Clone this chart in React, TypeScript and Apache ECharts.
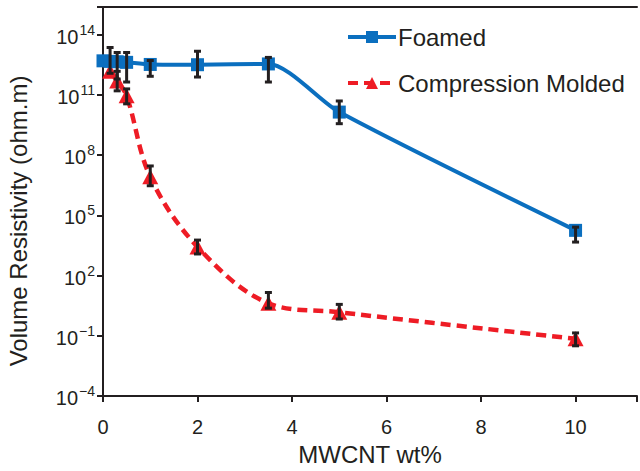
import React, { useEffect, useRef } from "react";
import * as echarts from "echarts";

// MWCNT content (wt%)
const foamedX = [0, 0.15, 0.3, 0.5, 1, 2, 3.5, 5, 10];
const foamedY = [5e12, 4.7e12, 4.5e12, 4.2e12, 3.3e12, 3.2e12, 3.5e12, 1.4e10, 1.8e4];
const foamedErrX = [0.15, 0.3, 0.5, 1, 2, 3.5, 5, 10];
const foamedErrHigh = [2.3e13, 1.3e13, 1.3e13, 5.2e12, 1.5e13, 7.4e12, 5e10, 2.6e4];
const foamedErrLow = [1.2e12, 6.2e11, 4.4e11, 8.5e11, 7.8e11, 4.4e11, 3.7e9, 4.7e3];

const moldedX = [0.15, 0.3, 0.5, 1, 2, 3.5, 5, 10];
const moldedY = [1.5e12, 4.9e11, 9e10, 8.3e6, 2.7e3, 4.2, 1.5, 0.071];
const moldedErrX = [0.3, 0.5, 1, 2, 3.5, 5, 10];
const moldedErrHigh = [1.5e12, 2e11, 2.9e7, 5.9e3, 14.5, 3.7, 0.14];
const moldedErrLow = [1.6e11, 3.6e10, 3e6, 1.2e3, 2.4, 0.69, 0.032];

const xTicks = [0, 2, 4, 6, 8, 10];
const yTickExponents = [-4, -1, 2, 5, 8, 11, 14];

const BLUE = "#0b6fbf";
const RED = "#ee1c25";
const INK = "#231f20";
const FONT = "Liberation Sans, Arial, Helvetica, sans-serif";

const lg = (v: number) => Math.log10(v);

function errorSeries(xs: number[], lo: number[], hi: number[]) {
  return {
    type: "custom",
    z: 10,
    silent: true,
    renderItem: (params: any, api: any) => {
      const x = api.value(0);
      const p1 = api.coord([x, api.value(1)]);
      const p2 = api.coord([x, api.value(2)]);
      const cap = 3.5;
      const st = { stroke: INK, lineWidth: 3 };
      return {
        type: "group",
        children: [
          { type: "line", shape: { x1: p1[0], y1: p1[1], x2: p2[0], y2: p2[1] }, style: st },
          { type: "line", shape: { x1: p1[0] - cap, y1: p1[1], x2: p1[0] + cap, y2: p1[1] }, style: st },
          { type: "line", shape: { x1: p2[0] - cap, y1: p2[1], x2: p2[0] + cap, y2: p2[1] }, style: st },
        ],
      };
    },
    data: xs.map((x, i) => [x, lg(lo[i]), lg(hi[i])]),
  };
}

export default function App() {
  const ref = useRef<HTMLDivElement>(null);
  useEffect(() => {
    if (!ref.current) return;
    document.body.style.margin = "0";
    const chart = echarts.init(ref.current, null, { renderer: "svg" });
    chart.setOption({
      animation: false,
      textStyle: { fontFamily: FONT },
      grid: { left: 103, right: 0, top: 7, bottom: 70 },
      legend: {
        orient: "vertical",
        left: 341,
        top: 18,
        itemWidth: 48,
        itemHeight: 15,
        itemGap: 18,
        lineStyle: { width: 4 },
        textStyle: { fontSize: 24, color: INK, fontFamily: FONT, lineHeight: 28, padding: [0, 0, 0, -3] },
        data: ["Foamed", "Compression Molded"],
      },
      xAxis: [
        {
          type: "value",
          min: 0,
          max: 11.3,
          interval: 2,
          name: "MWCNT wt%",
          nameLocation: "middle",
          nameGap: 44,
          nameTextStyle: { fontSize: 24, color: INK, fontFamily: FONT },
          axisLine: { onZero: false, lineStyle: { color: INK, width: 2 } },
          axisTick: { show: true, length: 6, lineStyle: { color: INK, width: 2 } },
          axisLabel: {
            fontSize: 20,
            color: INK,
            margin: 21,
            formatter: (v: number) => (xTicks.includes(v) ? String(v) : ""),
          },
          splitLine: { show: false },
        },
        {
          type: "value",
          position: "top",
          min: 0,
          max: 11.3,
          axisLine: { show: true, onZero: false, lineStyle: { color: INK, width: 2 } },
          axisTick: { show: false },
          axisLabel: { show: false },
          splitLine: { show: false },
        },
      ],
      yAxis: {
        type: "value",
        min: -4,
        max: 15.38,
        interval: 3,
        axisLine: { show: true, onZero: false, lineStyle: { color: INK, width: 2 } },
        axisTick: { show: true, length: 6, lineStyle: { color: INK, width: 2 } },
        splitLine: { show: false },
        axisLabel: {
          margin: 8,
          color: INK,
          formatter: (v: number) =>
            yTickExponents.includes(v)
              ? `{b|10}{s|${v < 0 ? "\u2212" + Math.abs(v) : v}}`
              : "",
          rich: {
            b: { fontSize: 20, color: INK, fontFamily: FONT, lineHeight: 24, verticalAlign: "bottom" },
            s: { fontSize: 14, color: INK, fontFamily: FONT, lineHeight: 14, verticalAlign: "top", padding: [0, 0, 0, 1] },
          },
        },
      },
      graphic: [
        {
          type: "text",
          x: 18,
          y: 221,
          rotation: Math.PI / 2,
          style: {
            text: "Volume Resistivity (ohm.m)",
            fontSize: 24,
            fontFamily: FONT,
            fill: INK,
            align: "center",
            verticalAlign: "middle",
          },
        },
      ],
      series: [
        {
          name: "Foamed",
          type: "line",
          smooth: 0.25,
          symbol: "rect",
          symbolSize: 13,
          itemStyle: { color: BLUE },
          lineStyle: { color: BLUE, width: 4 },
          data: foamedX.map((x, i) => [x, lg(foamedY[i])]),
          z: 3,
        },
        {
          name: "Compression Molded",
          type: "line",
          smooth: 0.35,
          symbol: "triangle",
          symbolSize: [16, 15],
          itemStyle: { color: RED },
          lineStyle: { color: RED, width: 4.5, type: [10, 6] },
          data: moldedX.map((x, i) => [x, lg(moldedY[i])]),
          z: 2,
        },
        errorSeries(moldedErrX, moldedErrLow, moldedErrHigh),
        errorSeries(foamedErrX, foamedErrLow, foamedErrHigh),
      ],
    });
    return () => chart.dispose();
  }, []);
  return <div ref={ref} style={{ width: 640, height: 471 }} />;
}
